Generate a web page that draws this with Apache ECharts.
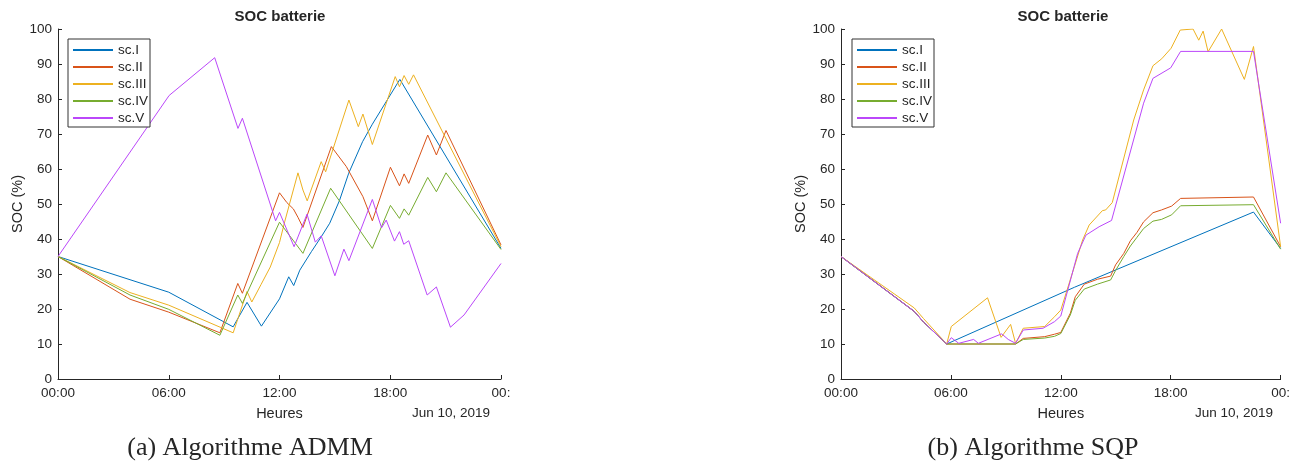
<!DOCTYPE html>
<html>
<head>
<meta charset="utf-8">
<script src="https://cdn.jsdelivr.net/npm/echarts@6/dist/echarts.min.js"></script>
<style>
  html, body { margin: 0; padding: 0; background: #ffffff; }
  #chart { width: 1293px; height: 464px; }
</style>
</head>
<body>
<div id="chart"></div>
<script>
// ---- Data (hour of day, SOC %) ----
const seriesNames = ['sc.I', 'sc.II', 'sc.III', 'sc.IV', 'sc.V'];
const xTickValues = [0, 6, 12, 18, 24];
const xTickLabels = ['00:00', '06:00', '12:00', '18:00', '00:'];
const yTicks = [0, 10, 20, 30, 40, 50, 60, 70, 80, 90, 100];

// (a) ADMM
const admm_I = [[0,35],[6,24.8],[9.49,14.9],[10.24,21.9],[11.02,15.1],[12,22.9],[12.5,29.2],[12.77,26.7],[13.1,31.1],[13.73,36.4],[14.27,40.7],[14.72,44.5],[15.25,51],[15.75,58.8],[16.5,67.8],[17.03,72.8],[18.52,85.6],[24,37.3]];
const admm_II = [[0,35],[3.9,22.8],[6,19.1],[8.77,13.2],[9.74,27.3],[9.99,24.5],[12,53.2],[12.4,50.4],[12.75,48.6],[13.0,46.2],[13.27,43.3],[14.81,66.4],[15.62,60.7],[16.52,52.1],[17.03,45.2],[18.01,60.5],[18.5,55.2],[18.75,58.6],[19.0,55.9],[20.03,69.7],[20.5,64],[21.02,71],[24,38.3]];
const admm_III = [[0,35],[3.9,24.7],[6,21.1],[9.49,13.2],[10.24,25],[10.5,22],[11,27],[11.5,32],[12,39],[12.28,44.9],[13.0,58.9],[13.27,54],[13.5,50.9],[14.26,62.1],[14.5,59.2],[15.76,79.7],[16.27,72.1],[16.52,75.7],[17.03,67],[18.27,86.4],[18.5,83.5],[18.75,86.7],[19.0,84.2],[19.26,86.9],[24,37.8]];
const admm_IV = [[0,35],[3.9,24],[6,19.9],[8.77,12.5],[9.74,24],[9.99,21.6],[12,44.8],[13.27,35.9],[14.77,54.5],[17.03,37.3],[18.01,49.6],[18.5,45.9],[18.75,48.6],[19,46.8],[20.03,57.6],[20.5,53.5],[21.02,58.9],[24,37]];
const admm_V = [[0,35],[6.02,81],[8.49,91.8],[9.75,71.6],[9.99,74.5],[11.79,45.2],[12,47.6],[12.79,37.8],[13.49,47.1],[13.94,39.1],[14.26,40.9],[15,29.5],[15.49,37.1],[15.76,33.8],[17.03,51.3],[17.53,43.2],[17.78,45.4],[18.23,39.4],[18.5,42.1],[18.73,38.5],[19,39.5],[20,24],[20.5,26.3],[21.26,14.8],[22,18.3],[24,33]];

// (b) SQP
const sqp_I = [[0,35],[4,19.3],[4.5,16.3],[5.77,10],[12.74,26.2],[22.52,47.7],[24,37.3]];
const sqp_II = [[0,35],[4,19.3],[4.5,16.3],[5.77,10],[9.53,10],[9.95,11.6],[11.12,12.1],[11.66,12.8],[12,13.3],[12.52,18.8],[12.79,23.5],[13.28,27.1],[14,28.5],[14.72,29.4],[14.99,32.6],[15.44,35.9],[15.8,39.5],[16.16,41.9],[16.52,44.9],[17.03,47.5],[17.5,48.3],[18.05,49.4],[18.54,51.6],[22.52,52],[24,37.8]];
const sqp_III = [[0,35],[4,20.3],[4.5,17.3],[5.77,10],[6.02,15],[8.0,23.2],[8.74,11.9],[9.26,15.6],[9.53,10.2],[9.95,14.5],[11.12,15],[11.66,17.8],[12,19.7],[12.74,32.1],[13.19,39.7],[13.55,44],[14.27,48.1],[14.45,48.3],[14.81,50.4],[15.98,74],[16.52,82.6],[17.03,89.5],[17.51,91.5],[18.02,94.5],[18.52,99.7],[19.22,100],[19.53,96.8],[19.77,99.4],[20.04,93.5],[20.78,100],[22.02,85.6],[22.52,95],[24,37.8]];
const sqp_IV = [[0,35],[4,19.3],[4.5,16.3],[5.77,10],[9.53,10],[9.95,11.3],[11.12,11.7],[11.66,12.2],[12,13],[12.52,18.3],[12.79,22.5],[13.28,25.7],[14,27.1],[14.72,28.3],[14.99,31],[15.44,35],[15.8,38],[16.16,40.5],[16.52,43],[17.03,45.1],[17.5,45.6],[18.05,46.9],[18.54,49.5],[22.52,49.8],[24,37.1]];
const sqp_V = [[0,35],[4,19.3],[4.5,16.3],[5.77,10],[6.02,11.8],[6.43,10.2],[7.24,11.3],[7.5,10.2],[8.77,12.9],[9.13,11.3],[9.53,10.2],[9.95,14],[11.03,14.5],[11.66,16.4],[12,18],[12.38,25.4],[12.92,35.9],[13.37,41.1],[14.09,43.5],[14.77,45.3],[16.52,78.8],[17.03,85.9],[18,88.9],[18.54,93.6],[22.52,93.6],[24,44.5]];

const titleText = 'SOC batterie';
const xName = 'Heures';
const yName = 'SOC (%)';
const dateText = 'Jun 10, 2019';
const captions = ['(a) Algorithme ADMM', '(b) Algorithme SQP'];

// ---- Styling ----
const colors = ['#0072BD', '#D95319', '#EDB120', '#77AC30', '#BB47FA'];
const axisColor = '#262626';
const sans = '"Liberation Sans", Arial, Helvetica, sans-serif';
const serif = '"Liberation Serif", "Times New Roman", serif';

const grids = [
  { left: 58, top: 29, width: 443, height: 350 },
  { left: 841, top: 29, width: 444, height: 350 }
];

function makeX(gi) {
  return {
    type: 'value', gridIndex: gi, min: 0, max: 24, interval: 6,
    axisLine: { show: true, onZero: false, lineStyle: { color: axisColor, width: 1 } },
    axisTick: { show: true, inside: true, length: 4, lineStyle: { color: axisColor } },
    axisLabel: {
      color: axisColor, fontSize: 13.5, fontFamily: sans, margin: 7,
      showMinLabel: true, showMaxLabel: true,
      formatter: v => { const i = xTickValues.indexOf(v); return i >= 0 ? xTickLabels[i] : ''; }
    },
    splitLine: { show: false },
    name: xName, nameLocation: 'middle', nameGap: 27,
    nameTextStyle: { color: axisColor, fontSize: 14.5, fontFamily: sans }
  };
}
function makeY(gi) {
  return {
    type: 'value', gridIndex: gi, min: 0, max: 100, interval: 10,
    axisLine: { show: true, onZero: false, lineStyle: { color: axisColor, width: 1 } },
    axisTick: { show: true, inside: true, length: 4, lineStyle: { color: axisColor } },
    axisLabel: { color: axisColor, fontSize: 13.5, fontFamily: sans, margin: 6 },
    splitLine: { show: false },
    name: yName, nameLocation: 'middle', nameRotate: 90, nameGap: 33,
    nameTextStyle: { color: axisColor, fontSize: 14.5, fontFamily: sans }
  };
}

const admmData = [admm_I, admm_II, admm_III, admm_IV, admm_V];
const sqpData = [sqp_I, sqp_II, sqp_III, sqp_IV, sqp_V];
const series = [];
[admmData, sqpData].forEach((set, gi) => {
  set.forEach((d, k) => {
    series.push({
      name: seriesNames[k], type: 'line', data: d,
      xAxisIndex: gi, yAxisIndex: gi,
      symbol: 'none', showSymbol: false,
      lineStyle: { width: 1, color: colors[k] },
      itemStyle: { color: colors[k] },
      clip: true, animation: false
    });
  });
});

function legendAt(left) {
  return {
    orient: 'vertical', left: left, top: 39,
    data: seriesNames,
    itemWidth: 40, itemHeight: 14, itemGap: 3,
    padding: [4, 2, 2, 4],
    borderColor: '#333333', borderWidth: 1, backgroundColor: '#ffffff',
    itemStyle: { opacity: 0, borderWidth: 0 },
    textStyle: { color: axisColor, fontSize: 13.5, fontFamily: sans },
    selectedMode: false
  };
}

function txt(text, x, y, font, weight) {
  return {
    type: 'text', x: x, y: y, silent: true,
    style: {
      text: text, fill: axisColor, font: (weight || 'normal') + ' ' + font,
      align: 'center', verticalAlign: 'middle'
    }
  };
}

const option = {
  backgroundColor: '#ffffff',
  animation: false,
  grid: grids,
  xAxis: [makeX(0), makeX(1)],
  yAxis: [makeY(0), makeY(1)],
  legend: [legendAt(68), legendAt(852)],
  series: series,
  graphic: [
    txt(titleText, 280, 17, '15px ' + sans, 'bold'),
    txt(titleText, 1063, 17, '15px ' + sans, 'bold'),
    txt(dateText, 451, 413, '13.5px ' + sans),
    txt(dateText, 1234, 413, '13.5px ' + sans),
    txt(captions[0], 250, 448, '26px ' + serif),
    txt(captions[1], 1033, 448, '26px ' + serif)
  ]
};

const chart = echarts.init(document.getElementById('chart'), null, { renderer: 'canvas' });
chart.setOption(option);
</script>
</body>
</html>
